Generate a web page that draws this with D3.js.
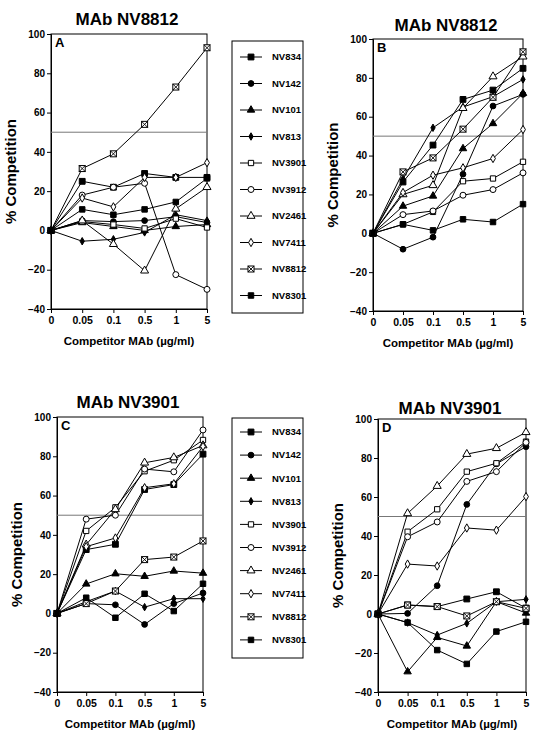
<!DOCTYPE html>
<html><head><meta charset="utf-8">
<script src="https://cdn.jsdelivr.net/npm/d3@7"></script>
<style>body{margin:0;background:#fff}svg{display:block}</style>
</head><body>
<svg id="c" width="543" height="737"></svg>
<script>
// ---------- data ----------
const doses = ["0", "0.05", "0.1", "0.5", "1", "5"];
const antibodies = ["NV834","NV142","NV101","NV813","NV3901","NV3912","NV2461","NV7411","NV8812","NV8301"];
const yTickValues = [-40, -20, 0, 20, 40, 60, 80, 100];
const thresholdValue = 50;
const panelTitles = ["MAb NV8812", "MAb NV8812", "MAb NV3901", "MAb NV3901"];
const panelLetters = ["A", "B", "C", "D"];

// panel A : MAb NV8812
const valuesA = [
  [0, 25, 22, 29, 27, 27],      // NV834
  [0, 5, 4.5, 5, 7, 4],         // NV142
  [0, 4, 2, 0, 2, 3],           // NV101
  [0, -5.5, -4.5, -1, 8, 5],    // NV813
  [0, 4.5, 3, 1, 6, 1.5],       // NV3901
  [0, 18, 22, 24, -22.5, -30],  // NV3912
  [0, 5, -7, -20.5, 11, 22],    // NV2461
  [0, 16.5, 12, 27, 27, 34.5],  // NV7411
  [0, 31.5, 39, 54, 73, 93],    // NV8812
  [0, 10.7, 8, 10.7, 14.5, 26.5]// NV8301
];
// panel B : MAb NV8812
const valuesB = [
  [0, 26.4, 45.4, 68.9, 73.7, 84.9],
  [0, -8.2, -2, 30.4, 65.5, 71.5],
  [0, 14, 19.2, 43.6, 56.5, 72],
  [0, 28, 54.3, 65, 70.3, 79.2],
  [0, 4.6, 11, 26.8, 28.2, 36.8],
  [0, 9.6, 11.5, 19.6, 22.5, 31.1],
  [0, 20, 24.7, 64.4, 80.7, 90.9],
  [0, 21, 29.9, 33.7, 38.5, 53.4],
  [0, 31.6, 38.8, 53.6, 70, 93.4],
  [0, 4.6, 1.5, 7.2, 5.8, 15]
];
// panel C : MAb NV3901
const valuesC = [
  [0, 32.5, 35.2, 63.1, 65.6, 81.1],
  [0, 5, 4.4, -5.6, 5, 10.4],
  [0, 15, 20.2, 18.9, 21.6, 20.5],
  [0, 6, 11.4, 3.2, 7.5, 7.5],
  [0, 42, 54, 72.4, 78, 88.3],
  [0, 48, 50, 73.5, 72.1, 93.4],
  [0, 35, 53, 76.7, 79.4, 85.5],
  [0, 34, 38.4, 64, 66, 85],
  [0, 5, 11.4, 27.4, 28.7, 36.9],
  [0, 8, -2.2, 10, 1.2, 15.1]
];
// panel D : MAb NV3901
const valuesD = [
  [0, 4.6, 3.8, 7.7, 11.4, 3],
  [0, 0.3, 14.5, 56.2, 77, 85.8],
  [0, -29.6, -12, -16.4, 6.3, 0.5],
  [0, -4.4, -10.8, -4.8, 6.3, 7.5],
  [0, 42.2, 53.7, 73, 77.3, 88.4],
  [0, 39.6, 47.2, 68, 73, 88],
  [0, 51.6, 65.6, 82, 85, 93.2],
  [0, 25.6, 24.6, 44.1, 43, 60.2],
  [0, 4.6, 3.8, -1, 6.3, 2.9],
  [0, -4.4, -18.5, -25.6, -9, -4]
];
const panelValues = [valuesA, valuesB, valuesC, valuesD];

// ---------- layout ----------
const layouts = [
  {left: 51, right: 207, top: 34, bottom: 309, titleY: 25},
  {left: 373, right: 523, top: 39, bottom: 311, titleY: 31},
  {left: 57, right: 203, top: 417, bottom: 692, titleY: 408},
  {left: 378, right: 526, top: 419, bottom: 692, titleY: 414}
];
const legends = [
  {x0: 232, x1: 303, y0: 41, y1: 313, first: 57, step: 26.5},
  {x0: 232, x1: 303, y0: 418, y1: 658, first: 432, step: 23.1}
];
const FONT = "Arial, 'Liberation Sans', Helvetica, sans-serif";

// marker styles by antibody index
const markerDefs = [
  {type: d3.symbolSquare, size: 34, fill: "#000"},
  {type: d3.symbolCircle, size: 26, fill: "#000"},
  {type: d3.symbolTriangle, size: 24, fill: "#000"},
  {type: d3.symbolDiamond, size: 16, fill: "#000"},
  {type: d3.symbolSquare, size: 28, fill: "#fff"},
  {type: d3.symbolCircle, size: 28, fill: "#fff"},
  {type: d3.symbolTriangle, size: 28, fill: "#fff"},
  {type: d3.symbolDiamond, size: 20, fill: "#fff"},
  {type: "xsquare", size: 6, fill: "#fff"},
  {type: d3.symbolSquare, size: 30, fill: "#000"}
];

const svg = d3.select("#c");

function drawMarker(g, i, x, y) {
  const m = markerDefs[i];
  if (m.type === "xsquare") {
    const h = m.size / 2;
    const gg = g.append("g").attr("transform", `translate(${x},${y})`);
    gg.append("rect").attr("x", -h).attr("y", -h).attr("width", m.size).attr("height", m.size)
      .attr("fill", "#fff").attr("stroke", "#000").attr("stroke-width", 1);
    gg.append("path").attr("d", `M${-h},${-h}L${h},${h}M${h},${-h}L${-h},${h}`)
      .attr("stroke", "#000").attr("stroke-width", 0.9);
  } else {
    g.append("path").attr("d", d3.symbol().type(m.type).size(m.size)())
      .attr("transform", `translate(${x},${y})`)
      .attr("fill", m.fill).attr("stroke", "#000").attr("stroke-width", 1);
  }
}

panelValues.forEach((vals, p) => {
  const L = layouts[p];
  const x = d3.scalePoint().domain(doses).range([L.left, L.right]).padding(0);
  const y = d3.scaleLinear().domain([-40, 100]).range([L.bottom, L.top]);
  const g = svg.append("g");

  // frame
  g.append("rect").attr("x", L.left).attr("y", L.top)
    .attr("width", L.right - L.left).attr("height", L.bottom - L.top)
    .attr("fill", "none").attr("stroke", "#000").attr("stroke-width", 1);

  // y axis: minor + major ticks
  const yAxisG = g.append("g").attr("transform", `translate(${L.left},0)`);
  yAxisG.call(d3.axisLeft(y).tickValues(d3.range(-40, 101, 5)).tickSize(2).tickFormat(""));
  yAxisG.call(d3.axisLeft(y).tickValues(yTickValues).tickSize(4).tickPadding(2).tickFormat(d3.format("d")));
  yAxisG.selectAll(".domain").attr("stroke", "#000");
  yAxisG.selectAll("text").attr("font-family", FONT).attr("font-weight", "bold").attr("font-size", 10).attr("fill", "#000");

  // x axis
  const xAxisG = g.append("g").attr("transform", `translate(0,${L.bottom})`);
  xAxisG.call(d3.axisBottom(x).tickSize(4).tickPadding(4));
  xAxisG.selectAll("text").attr("font-family", FONT).attr("font-weight", "bold").attr("font-size", 10.5).attr("fill", "#000");

  // 50% line
  g.append("line").attr("x1", L.left).attr("x2", L.right)
    .attr("y1", y(thresholdValue)).attr("y2", y(thresholdValue))
    .attr("stroke", "#777").attr("stroke-width", 1);

  // series lines and markers
  const line = d3.line().x((d, j) => x(doses[j])).y(d => y(d));
  vals.forEach((s) => {
    g.append("path").attr("d", line(s)).attr("fill", "none").attr("stroke", "#000").attr("stroke-width", 1);
  });
  vals.forEach((s, i) => {
    s.forEach((v, j) => drawMarker(g, i, x(doses[j]), y(v)));
  });

  // titles
  const cx = (L.left + L.right) / 2;
  g.append("text").attr("x", cx - 2).attr("y", L.titleY).attr("text-anchor", "middle")
    .attr("font-family", FONT).attr("font-weight", "bold").attr("font-size", 17).text(panelTitles[p]);
  g.append("text").attr("x", L.left + 4).attr("y", L.top + 13)
    .attr("font-family", FONT).attr("font-weight", "bold").attr("font-size", 13).text(panelLetters[p]);
  g.append("text").attr("x", cx).attr("y", L.bottom + 36).attr("text-anchor", "middle")
    .attr("font-family", FONT).attr("font-weight", "bold").attr("font-size", 11.5).text("Competitor MAb (µg/ml)");
  const ym = (L.top + L.bottom) / 2;
  g.append("text").attr("transform", `translate(${L.left - 35},${ym}) rotate(-90)`)
    .attr("text-anchor", "middle")
    .attr("font-family", FONT).attr("font-weight", "bold").attr("font-size", 15).text("% Competition");
});

// legends
legends.forEach(Lg => {
  const g = svg.append("g");
  g.append("rect").attr("x", Lg.x0).attr("y", Lg.y0).attr("width", Lg.x1 - Lg.x0).attr("height", Lg.y1 - Lg.y0)
    .attr("fill", "none").attr("stroke", "#000").attr("stroke-width", 1);
  antibodies.forEach((name, i) => {
    const yy = Lg.first + i * Lg.step;
    g.append("line").attr("x1", Lg.x0 + 8).attr("x2", Lg.x0 + 30).attr("y1", yy).attr("y2", yy)
      .attr("stroke", "#000").attr("stroke-width", 1);
    drawMarker(g, i, Lg.x0 + 19, yy);
    g.append("text").attr("x", Lg.x0 + 40).attr("y", yy).attr("dy", "0.35em")
      .attr("font-family", FONT).attr("font-weight", "bold").attr("font-size", 9.5).text(name);
  });
});
</script>
</body></html>
